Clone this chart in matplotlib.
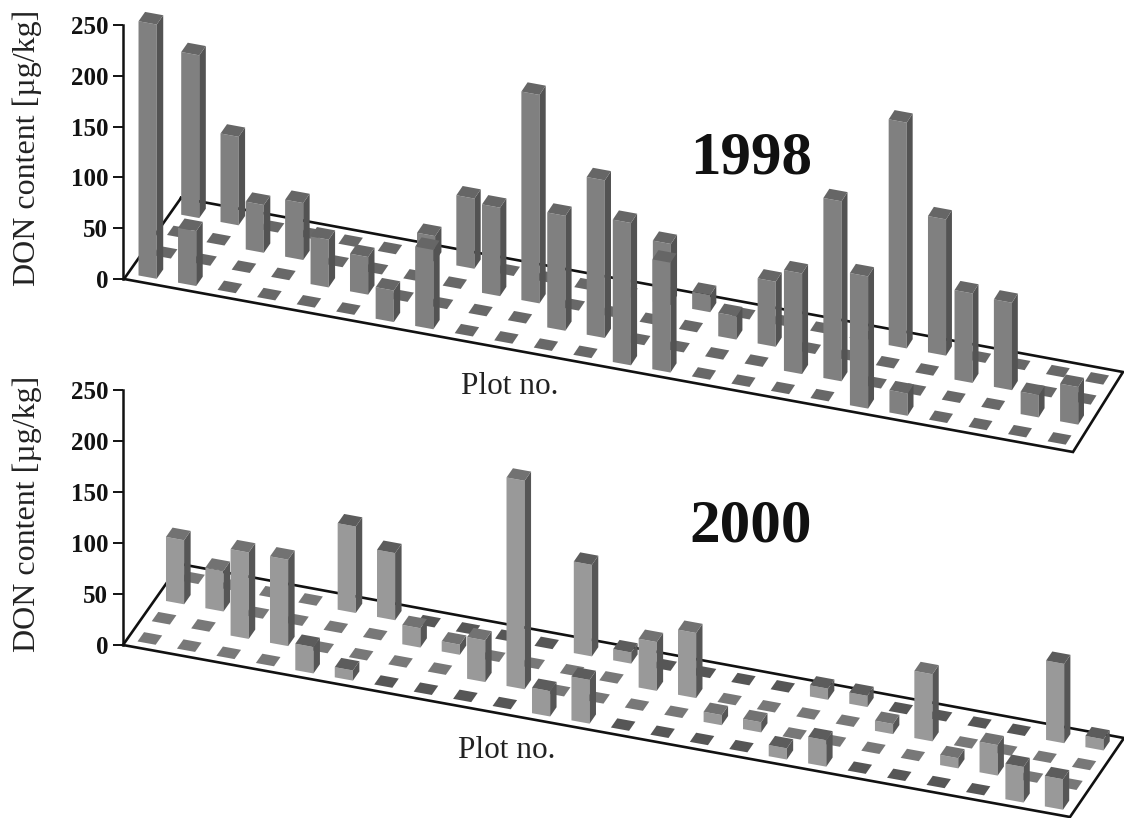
import matplotlib
matplotlib.use('Agg')
import matplotlib.pyplot as plt
from matplotlib.patches import Polygon

plt.rcParams['font.family'] = ['Liberation Serif', 'DejaVu Serif']

# DON content per plot, one list per row of the field (row 0 = front), 24 plots each
d98_row0 = [250, 54, 0, 0, 0, 0, 31, 78, 0, 0, 0, 0, 140, 108, 0, 0, 0, 0, 130, 22, 0, 0, 0, 0]
d98_row1 = [0, 0, 0, 0, 47, 37, 0, 0, 0, 0, 113, 155, 0, 0, 0, 0, 99, 177, 0, 0, 0, 0, 22, 37]
d98_row2 = [0, 0, 47, 56, 0, 0, 0, 0, 87, 205, 0, 0, 0, 0, 23, 64, 0, 0, 0, 0, 88, 86, 0, 0]
d98_row3 = [160, 87, 0, 0, 0, 0, 25, 69, 0, 0, 0, 0, 60, 17, 0, 0, 0, 0, 222, 134, 0, 0, 0, 0]

d00_row0 = [0, 0, 0, 0, 26, 10, 0, 0, 0, 0, 25, 43, 0, 0, 0, 0, 11, 26, 0, 0, 0, 0, 35, 30]
d00_row1 = [0, 0, 85, 85, 0, 0, 0, 0, 41, 205, 0, 0, 0, 0, 10, 10, 0, 0, 0, 0, 10, 30, 0, 0]
d00_row2 = [63, 40, 0, 0, 0, 0, 19, 10, 0, 0, 0, 0, 48, 64, 0, 0, 0, 0, 10, 66, 0, 0, 0, 0]
d00_row3 = [0, 0, 0, 0, 85, 66, 0, 0, 0, 0, 90, 11, 0, 0, 0, 0, 11, 11, 0, 0, 0, 0, 78, 11]

ticks = [0, 50, 100, 150, 200, 250]

W, H = 1124, 818
fig = plt.figure(figsize=(W / 100, H / 100), dpi=100, facecolor='white')
ax = fig.add_axes([0, 0, 1, 1])
ax.set_xlim(0, W)
ax.set_ylim(H, 0)
ax.axis('off')


def draw_panel(rows, fl, br, bl, tr, face, side, top, floor_col):
    # fl, br, bl, tr = front-left, front-right, back-left, back-right floor corners
    ncol, nrow = 24, 4
    px = 1.017

    def floor(u, v):
        x = (1 - v) * ((1 - u) * fl[0] + u * br[0]) + v * ((1 - u) * bl[0] + u * tr[0])
        y = (1 - v) * ((1 - u) * fl[1] + u * br[1]) + v * ((1 - u) * bl[1] + u * tr[1])
        return x, y

    ax.plot([bl[0], fl[0], br[0], tr[0], bl[0]], [bl[1], fl[1], br[1], tr[1], bl[1]],
            color='#111111', lw=1.9, zorder=1, solid_joinstyle='miter')

    z = 2
    for j in range(nrow - 1, -1, -1):
        for i in range(ncol):
            h = rows[j][i] * px
            u0 = (i + 0.27) / ncol
            u1 = (i + 0.73) / ncol
            v0 = (j + 0.27) / nrow
            v1 = (j + 0.73) / nrow
            a = floor(u0, v0)
            b = floor(u1, v0)
            c = floor(u1, v1)
            d = floor(u0, v1)
            if h == 0:
                ax.add_patch(Polygon([a, b, c, d], fc=floor_col(i, j), ec='none', zorder=z))
            else:
                up = lambda p: (p[0], p[1] - h)
                ax.add_patch(Polygon([a, b, up(b), up(a)], fc=face, ec='none', zorder=z))
                ax.add_patch(Polygon([b, c, up(c), up(b)], fc=side, ec='none', zorder=z))
                ax.add_patch(Polygon([up(a), up(b), up(c), up(d)], fc=top(i, j), ec='none', zorder=z))
            z += 1


def draw_yaxis(x, y0, y250, label_y):
    strip = fig.add_axes([x / W, 1 - y0 / H, 1 / W, (y0 - y250) / H])
    strip.patch.set_visible(False)
    strip.set_ylim(0, 250)
    strip.set_xticks([])
    strip.set_yticks(ticks)
    strip.set_yticklabels([str(t) for t in ticks], fontweight='bold', fontsize=18, color='#111111')
    strip.tick_params(axis='y', length=7.2, width=1.4, pad=3.5, color='#111111')
    for s in ['top', 'right', 'bottom']:
        strip.spines[s].set_visible(False)
    strip.spines['left'].set_linewidth(1.8)
    strip.spines['left'].set_color('#111111')
    ax.text(27, label_y, 'DON content [µg/kg]', rotation=90, ha='center', va='center',
            fontsize=23, color='#222222')


draw_panel([d98_row0, d98_row1, d98_row2, d98_row3],
           (124, 279), (1073, 452), (181, 198), (1123, 372),
           '#808080', '#535353', lambda i, j: '#666666', lambda i, j: '#686868')

# the 2000 panel has darker squares in the front and back rows towards the right
dark00 = lambda i, j: '#565656' if (j in (0, 3) and i >= 6) else '#787878'
draw_panel([d00_row0, d00_row1, d00_row2, d00_row3],
           (123, 645), (1070, 817), (180, 564), (1124, 738),
           '#999999', '#565656', lambda i, j: '#5c5c5c' if j in (0, 3) else '#727272', dark00)

draw_yaxis(123, 279, 25, 148)
draw_yaxis(123, 645, 390, 514)

ax.text(751, 159, '1998', fontsize=44, fontweight='bold', ha='center', va='center', color='#111111')
ax.text(751, 526, '2000', fontsize=44, fontweight='bold', ha='center', va='center', color='#111111')
ax.text(510, 387, 'Plot no.', fontsize=22.5, ha='center', va='center', color='#222222')
ax.text(507, 751, 'Plot no.', fontsize=22.5, ha='center', va='center', color='#222222')

fig.savefig('out.png', dpi=100)
